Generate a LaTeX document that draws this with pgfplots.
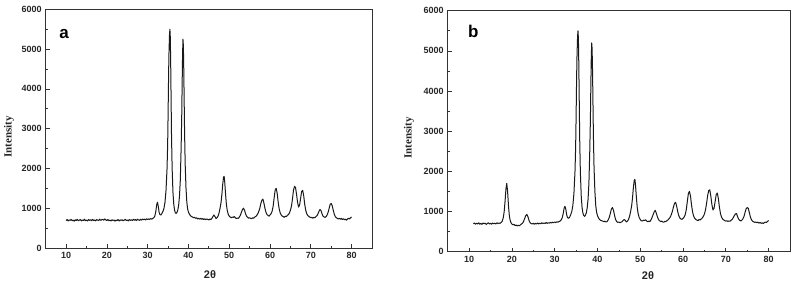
\documentclass[border=0pt]{standalone}
\usepackage{pgfplots}
\pgfplotsset{compat=1.18}
\usepackage{fontspec}
\setmainfont{Liberation Sans}
\newfontfamily\serifb{Liberation Serif}
\pgfplotstableread{
x y
10.0 690
10.25 715
10.5 680
10.75 705
11.0 695
11.25 720
11.5 685
11.75 700
12.0 675
12.25 710
12.5 690
12.75 720
13.0 685
13.25 700
13.5 715
13.75 680
14.0 705
14.25 690
14.5 725
14.75 685
15.0 700
15.25 680
15.5 715
15.75 695
16.0 710
16.25 685
16.5 720
16.75 690
17.0 705
17.25 680
17.5 715
17.75 700
18.0 690
18.25 725
18.5 695
18.75 710
19.0 720
19.25 700
19.5 730
19.75 705
20.0 690
20.25 715
20.5 685
20.75 700
21.0 680
21.25 710
21.5 690
21.75 705
22.0 675
22.25 700
22.5 690
22.75 715
23.0 680
23.25 705
23.5 695
23.75 710
24.0 685
24.25 700
24.5 720
24.75 690
25.0 705
25.25 680
25.5 715
25.75 695
26.0 710
26.25 690
26.5 720
26.75 700
27.0 715
27.25 690
27.5 725
27.75 705
28.0 695
28.25 720
28.5 700
28.75 730
29.0 710
29.25 725
29.5 705
29.75 735
30.0 715
30.25 730
30.5 720
30.75 740
31.0 725
31.25 745
31.5 760
31.75 800
32.0 920
32.2 1080
32.4 1150
32.6 1050
32.8 900
33.0 840
33.25 830
33.5 870
33.75 920
34.0 1000
34.25 1150
34.5 1450
34.75 2000
34.9 2600
35.0 3300
35.1 4100
35.2 4800
35.35 5350
35.45 5500
35.55 5300
35.65 4600
35.75 3700
35.85 2800
36.0 2000
36.2 1400
36.4 1100
36.6 950
36.8 880
37.0 870
37.2 900
37.4 960
37.6 1080
37.8 1300
38.0 1700
38.2 2500
38.35 3300
38.45 4100
38.55 4800
38.65 5250
38.75 5100
38.85 4500
38.95 3700
39.05 2900
39.2 2100
39.4 1500
39.6 1150
39.8 980
40.0 900
40.25 850
40.5 810
40.75 790
41.0 780
41.25 760
41.5 770
41.75 745
42.0 760
42.25 730
42.5 750
42.75 725
43.0 745
43.25 720
43.5 740
43.75 715
44.0 735
44.25 710
44.5 730
44.75 720
45.0 705
45.25 730
45.5 715
45.75 745
46.0 790
46.25 830
46.5 790
46.75 740
47.0 760
47.25 800
47.5 880
47.75 1000
48.0 1150
48.2 1350
48.4 1600
48.6 1780
48.75 1800
48.9 1650
49.1 1350
49.3 1100
49.5 950
49.75 850
50.0 800
50.25 775
50.5 760
50.75 780
51.0 770
51.25 790
51.5 760
51.75 740
52.0 755
52.25 745
52.5 780
52.75 830
53.0 900
53.25 970
53.5 1000
53.75 950
54.0 860
54.25 800
54.5 770
54.75 750
55.0 760
55.25 745
55.5 735
55.75 760
56.0 750
56.25 780
56.5 790
56.75 820
57.0 860
57.25 920
57.5 1000
57.75 1120
58.0 1200
58.25 1230
58.5 1130
58.75 1000
59.0 900
59.25 840
59.5 820
59.75 800
60.0 830
60.25 860
60.5 920
60.75 1040
61.0 1250
61.25 1450
61.5 1500
61.75 1380
62.0 1150
62.25 980
62.5 880
62.75 830
63.0 800
63.25 790
63.5 770
63.75 800
64.0 790
64.25 820
64.5 840
64.75 880
65.0 950
65.25 1050
65.5 1230
65.75 1450
66.0 1550
66.25 1520
66.5 1350
66.75 1150
67.0 1030
67.25 1080
67.5 1250
67.75 1420
68.0 1450
68.25 1320
68.5 1100
68.75 950
69.0 860
69.25 820
69.5 790
69.75 780
70.0 760
70.25 770
70.5 750
70.75 770
71.0 760
71.25 790
71.5 810
71.75 860
72.0 920
72.25 970
72.5 940
72.75 860
73.0 800
73.25 780
73.5 770
73.75 790
74.0 830
74.25 900
74.5 1000
74.75 1100
75.0 1120
75.25 1060
75.5 950
75.75 850
76.0 790
76.25 760
76.5 745
76.75 730
77.0 745
77.25 725
77.5 740
77.75 715
78.0 735
78.25 710
78.5 725
78.75 700
79.0 730
79.25 745
79.5 730
79.75 760
80.0 780
}\dataA
\pgfplotstableread{
x y
11.0 700
11.25 715
11.5 685
11.75 710
12.0 690
12.25 720
12.5 685
12.75 705
13.0 680
13.25 715
13.5 695
13.75 710
14.0 680
14.25 700
14.5 720
14.75 690
15.0 705
15.25 685
15.5 715
15.75 695
16.0 710
16.25 690
16.5 720
16.75 700
17.0 715
17.25 705
17.5 730
17.75 760
18.0 850
18.2 1000
18.4 1250
18.6 1550
18.8 1700
19.0 1500
19.2 1150
19.4 900
19.6 780
19.8 720
20.0 690
20.25 670
20.5 680
20.75 650
21.0 665
21.25 640
21.5 660
21.75 645
22.0 670
22.25 690
22.5 710
22.75 760
23.0 830
23.25 900
23.5 930
23.75 870
24.0 780
24.25 720
24.5 700
24.75 690
25.0 710
25.25 685
25.5 705
25.75 690
26.0 715
26.25 690
26.5 710
26.75 695
27.0 720
27.25 700
27.5 715
27.75 700
28.0 725
28.25 705
28.5 720
28.75 710
29.0 730
29.25 715
29.5 735
29.75 720
30.0 740
30.25 725
30.5 745
30.75 735
31.0 750
31.25 760
31.5 790
31.75 840
32.0 950
32.2 1080
32.4 1130
32.6 1060
32.8 920
33.0 850
33.25 830
33.5 860
33.75 920
34.0 1000
34.25 1150
34.5 1450
34.75 2000
34.9 2600
35.0 3300
35.1 4100
35.2 4800
35.35 5350
35.45 5500
35.55 5300
35.65 4600
35.75 3700
35.85 2800
36.0 2000
36.2 1400
36.4 1100
36.6 960
36.8 900
37.0 880
37.2 910
37.4 970
37.6 1090
37.8 1300
38.0 1700
38.2 2500
38.35 3300
38.45 4100
38.55 4800
38.65 5200
38.75 5050
38.85 4500
38.95 3700
39.05 2900
39.2 2100
39.4 1500
39.6 1150
39.8 980
40.0 900
40.25 840
40.5 800
40.75 780
41.0 770
41.25 760
41.5 745
41.75 760
42.0 740
42.25 750
42.5 790
42.75 850
43.0 950
43.25 1060
43.5 1100
43.75 1030
44.0 900
44.25 800
44.5 750
44.75 730
45.0 740
45.25 720
45.5 735
45.75 745
46.0 780
46.25 800
46.5 780
46.75 740
47.0 760
47.25 800
47.5 880
47.75 1000
48.0 1150
48.2 1350
48.4 1600
48.6 1780
48.75 1800
48.9 1650
49.1 1350
49.3 1100
49.5 950
49.75 850
50.0 800
50.25 770
50.5 765
50.75 785
51.0 775
51.25 795
51.5 765
51.75 745
52.0 760
52.25 750
52.5 790
52.75 850
53.0 920
53.25 990
53.5 1030
53.75 960
54.0 870
54.25 805
54.5 770
54.75 755
55.0 760
55.25 740
55.5 735
55.75 755
56.0 750
56.25 775
56.5 790
56.75 825
57.0 860
57.25 920
57.5 1000
57.75 1110
58.0 1200
58.25 1230
58.5 1140
58.75 1000
59.0 900
59.25 840
59.5 815
59.75 805
60.0 830
60.25 860
60.5 920
60.75 1040
61.0 1250
61.25 1450
61.5 1500
61.75 1380
62.0 1150
62.25 980
62.5 880
62.75 830
63.0 800
63.25 785
63.5 775
63.75 800
64.0 790
64.25 815
64.5 840
64.75 880
65.0 940
65.25 1040
65.5 1200
65.75 1400
66.0 1520
66.25 1540
66.5 1380
66.75 1170
67.0 1040
67.25 1080
67.5 1250
67.75 1420
68.0 1460
68.25 1330
68.5 1110
68.75 950
69.0 860
69.25 815
69.5 790
69.75 775
70.0 760
70.25 770
70.5 755
70.75 765
71.0 760
71.25 785
71.5 805
71.75 850
72.0 900
72.25 940
72.5 950
72.75 870
73.0 810
73.25 780
73.5 765
73.75 785
74.0 820
74.25 880
74.5 980
74.75 1070
75.0 1100
75.25 1080
75.5 970
75.75 860
76.0 795
76.25 760
76.5 745
76.75 730
77.0 740
77.25 720
77.5 735
77.75 710
78.0 730
78.25 705
78.5 720
78.75 700
79.0 725
79.25 740
79.5 725
79.75 755
80.0 775
}\dataB
\pgfplotsset{
  xrdaxis/.style={
    scale only axis,
    anchor=south west,
    xmin=5, xmax=85, ymin=0, ymax=6000,
    xtick={10,20,...,80},
    ytick={0,1000,...,6000},
    minor x tick num=1, minor y tick num=1,
    tick align=inside, tick pos=left,
    major tick length=4pt, minor tick length=2pt,
    axis line style={line width=0.8pt, black!80},
    every tick/.style={black!80, line width=0.7pt},
    /pgf/number format/assume math mode=true,
    /pgf/number format/1000 sep={},
    tick label style={font=\fontsize{9}{10}\selectfont\bfseries, text=black!85},
    xticklabel style={yshift=-1pt},
    yticklabel style={xshift=-0.5pt},
  }
}
\begin{document}
\begin{tikzpicture}
\useasboundingbox (0pt,0pt) rectangle (797pt,283pt);
\begin{axis}[xrdaxis, at={(45.7pt,35pt)}, width=326.3pt, height=238.7pt]
\addplot[black!90, line width=1pt, line join=round, no marks] table[x=x,y=y] {\dataA};
\end{axis}
\begin{axis}[xrdaxis, at={(447.7pt,31.3pt)}, width=342.3pt, height=241pt]
\addplot[black!90, line width=1pt, line join=round, no marks] table[x=x,y=y] {\dataB};
\end{axis}
\node[font=\fontsize{11}{12}\selectfont\bfseries, text=black!85] at (210pt,8pt) {2θ};
\node[font=\fontsize{11}{12}\selectfont\bfseries, text=black!85] at (648pt,7pt) {2θ};
\node[rotate=90, font=\serifb\fontsize{11}{12}\selectfont\bfseries, text=black!85] at (9pt,146pt) {Intensity};
\node[rotate=90, font=\serifb\fontsize{11}{12}\selectfont\bfseries, text=black!85] at (409pt,145pt) {Intensity};
\node[inner sep=0pt, font=\fontsize{17}{20}\selectfont\bfseries] at (64pt,249pt) {a};
\node[inner sep=0pt, font=\fontsize{17}{20}\selectfont\bfseries] at (473.3pt,251.7pt) {b};
\end{tikzpicture}
\end{document}
